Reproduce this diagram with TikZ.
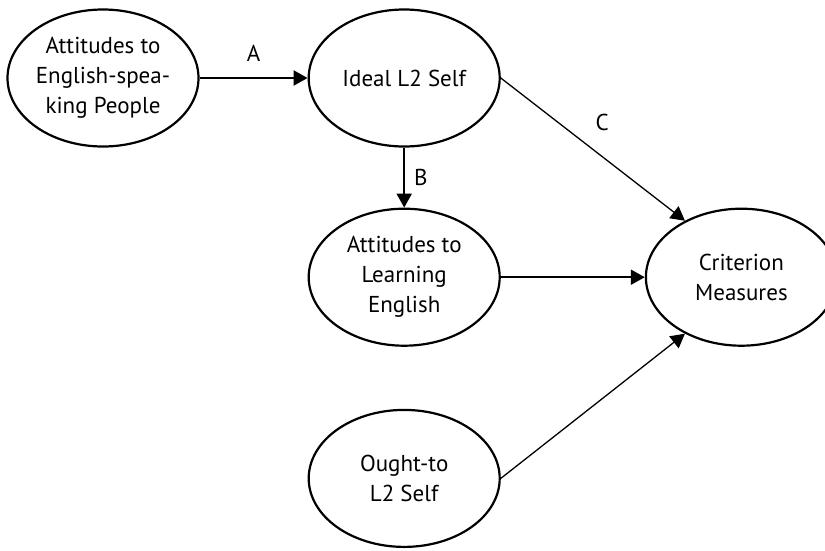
\documentclass[tikz,border=0pt]{standalone}
\usepackage{fontspec}
\setmainfont{PT Sans}
\usetikzlibrary{arrows.meta,positioning,shapes.geometric}

\begin{document}
\begin{tikzpicture}[x=1pt,y=1pt,>={Triangle[length=14pt,width=15pt]},auto,
  latent/.style={ellipse,draw,line width=2.2pt,minimum width=191pt,minimum height=137pt,
    inner sep=0pt,align=center,font=\fontsize{23}{30}\selectfont},
  link/.style={->,line width=2pt},
  thinlink/.style={->,line width=1.3pt},
  lbl/.style={font=\fontsize{23}{30}\selectfont,inner sep=2pt}]

\useasboundingbox (0,0) rectangle (825,-550);

\node[latent] (att) at (103,-78) {Attitudes to\\English-spea-\\king People};
\node[latent] (ideal) [right=108pt of att]  {Ideal L2 Self};
\node[latent] (learn) [below=60pt of ideal] {Attitudes to\\Learning\\English};
\node[latent] (ought) [below=62pt of learn] {Ought-to\\L2 Self};
\node[latent] (crit)  [right=144pt of learn] {Criterion\\Measures};

\path (att)        edge[link]     node[lbl,above=14pt]{A}                 (ideal)
      (ideal)      edge[link]     node[lbl,right=7pt]{B}                  (learn)
      (ideal.east) edge[thinlink] node[lbl,above right=16pt and 0pt]{C}   (crit.135)
      (learn)      edge[link]                                             (crit)
      (ought.east) edge[thinlink]                                         (crit.225);

\end{tikzpicture}
\end{document}
